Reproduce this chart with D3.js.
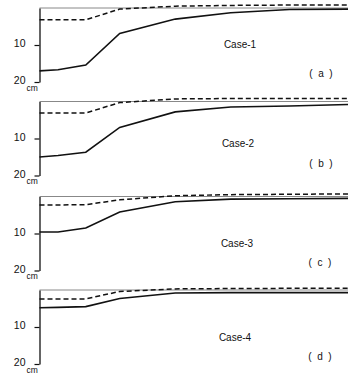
<!DOCTYPE html>
<html>
<head>
<meta charset="utf-8">
<script src="https://cdn.jsdelivr.net/npm/d3@7"></script>
<style>
  body { margin: 0; background: #fff; }
  svg { display: block; }
  text { font-family: "Liberation Sans", Arial, sans-serif; fill: #111; }
</style>
</head>
<body>
<svg id="chart" width="349" height="377"></svg>
<script>
// stations along the section (0 = left axis, 100 = right edge)
const stations = [0, 6, 15, 26, 44, 62, 81, 100];

// depth (cm) of the solid and dashed profiles for each case
const solidA  = [17.0, 16.7, 15.4, 6.9, 3.0, 1.3, 0.4, 0.3];
const dashedA = [3.2, 3.2, 3.2, 0.3, -0.5, -0.7, -0.8, -0.8];
const solidB  = [15.0, 14.6, 13.7, 7.0, 2.8, 1.5, 1.2, 0.8];
const dashedB = [3.1, 3.1, 3.1, 0.3, -0.7, -0.8, -0.8, -0.8];
const solidC  = [9.6, 9.6, 8.5, 4.2, 1.4, 0.7, 0.6, 0.5];
const dashedC = [2.3, 2.3, 2.2, 0.9, -0.2, -0.5, -0.6, -0.7];
const solidD  = [4.8, 4.7, 4.5, 2.3, 0.8, 0.7, 0.7, 0.7];
const dashedD = [2.4, 2.4, 2.4, 0.4, -0.3, -0.4, -0.45, -0.5];

const caseNames = ["Case-1", "Case-2", "Case-3", "Case-4"];
const panelTags = ["a", "b", "c", "d"];
const depthTicks = [10, 20];

const solids = [solidA, solidB, solidC, solidD];
const dashes = [dashedA, dashedB, dashedC, dashedD];

// layout per panel (pixel top of the zero line, label spots)
const panelTop = [8, 101.5, 196.5, 290];
const caseLabelPos = [[240, 48], [238, 147], [237, 247], [235, 341]];
const tagPos = [[321, 77], [321, 167], [320, 266], [320, 360]];

const svg = d3.select("#chart");
const axisX = 39.5;

const x = d3.scaleLinear().domain([0, 100]).range([axisX, 348]);

solids.forEach((solid, i) => {
    const y0 = panelTop[i];
    const y = d3.scaleLinear().domain([0, 20]).range([y0, y0 + 74]);
    const g = svg.append("g");

    // zero line
    g.append("line")
        .attr("x1", x(0)).attr("x2", x(100))
        .attr("y1", y(0)).attr("y2", y(0))
        .attr("stroke", "#888").attr("stroke-width", 1);

    // depth axis
    const axis = g.append("g")
        .attr("transform", `translate(${axisX},0)`)
        .call(d3.axisLeft(y).tickValues(depthTicks).tickSize(5).tickSizeOuter(0).tickPadding(9));
    axis.select(".domain").attr("stroke", "#111").attr("stroke-width", 1.3);
    axis.selectAll(".tick line").attr("stroke", "#111").attr("stroke-width", 1.2);
    axis.selectAll(".tick text")
        .attr("font-size", 10.5)
        .attr("fill", "#111")
        .attr("dy", "0.15em");
    axis.selectAll(".tick").filter(d => d === 20)
        .append("text")
        .attr("x", -13).attr("y", 8)
        .attr("text-anchor", "start")
        .attr("font-size", 8.5)
        .attr("fill", "#111")
        .text("cm");

    const line = d3.line()
        .x((d, k) => x(stations[k]))
        .y(d => y(d));

    g.append("path")
        .datum(dashes[i])
        .attr("d", line)
        .attr("fill", "none")
        .attr("stroke", "#111")
        .attr("stroke-width", 1.5)
        .attr("stroke-dasharray", "5,3");

    g.append("path")
        .datum(solid)
        .attr("d", line)
        .attr("fill", "none")
        .attr("stroke", "#111")
        .attr("stroke-width", 1.6);

    g.append("text")
        .attr("x", caseLabelPos[i][0]).attr("y", caseLabelPos[i][1])
        .attr("text-anchor", "middle")
        .attr("font-size", 10)
        .text(caseNames[i]);

    g.append("text")
        .attr("x", tagPos[i][0]).attr("y", tagPos[i][1])
        .attr("text-anchor", "middle")
        .attr("font-size", 10)
        .style("white-space", "pre")
        .text(`(  ${panelTags[i]}  )`);
});
</script>
</body>
</html>
